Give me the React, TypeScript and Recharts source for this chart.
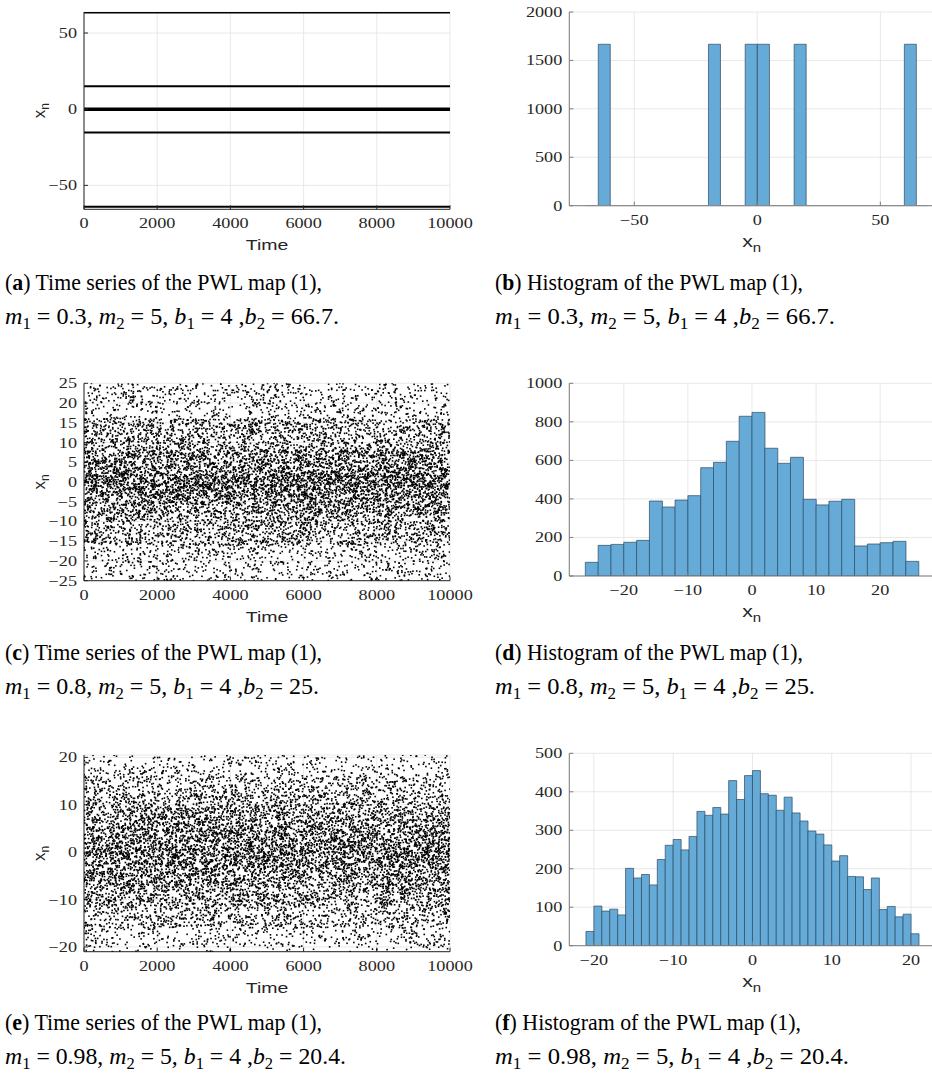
import React from 'react';
import { ComposedChart, XAxis, YAxis, CartesianGrid, Line, Scatter, Bar, ReferenceLine } from 'recharts';

// ---------------- data ----------------
const timeTicks = [0, 2000, 4000, 6000, 8000, 10000];
const timeDomain = [0, 10000];

// (a) period-6 orbit: the six levels visited by x_n
const levelsA = [63.4, 15, 0.5, -0.6, -15.3, -64];
const yTicksA = [-50, 0, 50];
const yDomainA = [-65.7, 63.8];

// (b) histogram of (a)
const binStartB = -69.6;
const binWidthB = 4.975;
const countsB = [0, 1667, 0, 0, 0, 0, 0, 0, 0, 0, 1667, 0, 0, 1667, 1667, 0, 0, 1667, 0, 0, 0, 0, 0, 0, 0, 0, 1667, 0];
const xTicksB = [-50, 0, 50];
const xDomainB = [-76.4, 71.8];
const yTicksB = [0, 500, 1000, 1500, 2000];
const yDomainB = [0, 2000];

// (c) time series, m1 = 0.8
const yTicksC = [-25, -20, -15, -10, -5, 0, 5, 10, 15, 20, 25];
const yDomainC = [-25, 25];

// (d) histogram of (c)
const binStartD = -26;
const binWidthD = 2;
const countsD = [71, 159, 164, 175, 185, 389, 358, 394, 417, 562, 590, 699, 829, 849, 663, 585, 616, 398, 369, 388, 398, 156, 166, 173, 180, 76];
const xTicksD = [-20, -10, 0, 10, 20];
const xDomainD = [-28.5, 28.4];
const yTicksD = [0, 200, 400, 600, 800, 1000];
const yDomainD = [0, 1000];

// (e) time series, m1 = 0.98
const yTicksE = [-20, -10, 0, 10, 20];
const yDomainE = [-21, 20.5];

// (f) histogram of (e)
const binStartF = -21;
const binWidthF = 1;
const countsF = [37, 103, 90, 95, 80, 201, 176, 185, 158, 224, 261, 276, 249, 284, 349, 339, 359, 342, 429, 380, 442, 455, 395, 391, 352, 386, 345, 324, 298, 290, 262, 220, 234, 180, 179, 146, 176, 94, 102, 75, 82, 31];
const xTicksF = [-20, -10, 0, 10, 20];
const xDomainF = [-23.1, 22.9];
const yTicksF = [0, 100, 200, 300, 400, 500];
const yDomainF = [0, 500];

// captions
const captionLetters = ['a', 'b', 'c', 'd', 'e', 'f'];
const captionTitles = [
  'Time series of the PWL map (1),',
  'Histogram of the PWL map (1),',
  'Time series of the PWL map (1),',
  'Histogram of the PWL map (1),',
  'Time series of the PWL map (1),',
  'Histogram of the PWL map (1),',
];
const captionParams = [
  ['0.3', '5', '4', '66.7'],
  ['0.3', '5', '4', '66.7'],
  ['0.8', '5', '4', '25'],
  ['0.8', '5', '4', '25'],
  ['0.98', '5', '4', '20.4'],
  ['0.98', '5', '4', '20.4'],
];

// ---------------- derived tables ----------------
const histTable = (start: number, w: number, counts: number[]) =>
  counts.map((c, i) => ({ x: start + (i + 0.5) * w, c }));

// deterministic integer hash -> [0,1)
const hash01 = (n: number) => {
  let h = Math.imul(n ^ 0x9e3779b9, 0x85ebca6b);
  h ^= h >>> 13;
  h = Math.imul(h, 0xc2b2ae35);
  h ^= h >>> 16;
  h = Math.imul(h ^ (h >>> 15), 0x2c1b3c6d);
  h ^= h >>> 12;
  return (h >>> 0) / 4294967296;
};

// The 10000-sample chaotic series cannot be read point by point; each sample is
// put in the x_n bin that the neighbouring histogram
// reports, so the dot density of the time series matches its histogram.
const samplesFromHistogram = (start: number, w: number, counts: number[], yMin: number, yMax: number, seed: number) => {
  const pts: { t: number; y: number }[] = [];
  let g = seed;
  counts.forEach((c, i) => {
    const lo = Math.max(start + i * w, yMin);
    const hi = Math.min(start + (i + 1) * w, yMax);
    for (let j = 0; j < c; j++) {
      g++;
      pts.push({ t: 1 + hash01(2 * g) * 9999, y: lo + hash01(2 * g + 1) * (hi - lo) });
    }
  });
  return pts;
};

const histB = histTable(binStartB, binWidthB, countsB);
const histD = histTable(binStartD, binWidthD, countsD);
const histF = histTable(binStartF, binWidthF, countsF);
const seriesC = samplesFromHistogram(binStartD, binWidthD, countsD, yDomainC[0], yDomainC[1], 1000);
const seriesE = samplesFromHistogram(binStartF, binWidthF, countsF, yDomainE[0], yDomainE[1], 50000);

// ---------------- styling ----------------
const SERIF = '"Liberation Serif", "DejaVu Serif", serif';
const SANS = '"Liberation Sans", Arial, sans-serif';
const SX = 1.3;
const TICK_FS = 14;
const TEXT = '#262626';
const BAR_FILL = '#66aad7';
const BAR_EDGE = '#2c4a62';

const fmt = (v: number) => (v < 0 ? '\u2212' + Math.abs(v) : String(v));

const XTick = (props: any) => {
  const { x, y, payload } = props;
  return (
    <text transform={`translate(${x},${y}) scale(${SX},1)`} textAnchor="middle" fontFamily={SERIF} fontSize={TICK_FS} fill={TEXT}>
      {fmt(payload.value)}
    </text>
  );
};

const YTick = (props: any) => {
  const { x, y, payload } = props;
  return (
    <text transform={`translate(${x},${y + 5}) scale(${SX},1)`} textAnchor="end" fontFamily={SERIF} fontSize={TICK_FS} fill={TEXT}>
      {fmt(payload.value)}
    </text>
  );
};

const dot = (p: any) => <rect x={p.cx - 0.8} y={p.cy - 0.8} width={1.6} height={1.6} fill="#000" />;

type PanelProps = {
  left: number; top: number; width: number; height: number;
  plotLeft: number; plotTop: number; plotRight: number; plotBottom: number;
  xDomain: number[]; xTicks: number[]; xKey: string;
  yDomain: number[]; yTicks: number[]; yKey?: string;
  axisColor: string; kind: 'time' | 'hist';
  data?: any[];
  children: React.ReactNode;
};

function Panel(p: PanelProps) {
  const YW = 60;
  const XH = 40;
  const margin = {
    left: p.plotLeft - p.left - YW,
    right: p.left + p.width - p.plotRight,
    top: p.plotTop - p.top,
    bottom: p.top + p.height - p.plotBottom - XH,
  };
  const pl = p.plotLeft - p.left;
  const pr = p.plotRight - p.left;
  const pt = p.plotTop - p.top;
  const pb = p.plotBottom - p.top;
  return (
    <div style={{ position: 'absolute', left: p.left, top: p.top, width: p.width, height: p.height }}>
      <ComposedChart width={p.width} height={p.height} margin={margin} data={p.data} barCategoryGap={0} barGap={0}>
        <CartesianGrid stroke="#e2e2e2" strokeWidth={0.8} />
        <XAxis xAxisId={0} type="number" dataKey={p.xKey} domain={p.xDomain} ticks={p.xTicks} allowDataOverflow interval={0}
          height={XH} tickSize={-4} tickMargin={23} stroke={p.axisColor} tick={(tp: any) => <XTick {...tp} />} />
        <XAxis xAxisId="top" orientation="top" type="number" domain={p.xDomain} ticks={p.xTicks} allowDataOverflow interval={0}
          height={0} tickSize={-4} tick={false} stroke={p.axisColor} />
        <YAxis yAxisId={0} type="number" dataKey={p.yKey} domain={p.yDomain} ticks={p.yTicks} allowDataOverflow interval={0}
          width={YW} tickSize={-4} tickMargin={11} stroke={p.axisColor} tick={(tp: any) => <YTick {...tp} />} />
        <YAxis yAxisId="right" orientation="right" type="number" domain={p.yDomain} ticks={p.yTicks} allowDataOverflow interval={0}
          width={0} tickSize={-4} tick={false} stroke={p.axisColor} />
        {p.children}
      </ComposedChart>
      <svg width={p.width} height={p.height} style={{ position: 'absolute', left: 0, top: 0, overflow: 'visible', pointerEvents: 'none' }}>
        {p.kind === 'time' ? (
          <>
            <text transform={`translate(${(pl + pr) / 2},${pb + 41}) scale(${SX},1)`} textAnchor="middle" fontFamily={SANS} fontSize={15} fill={TEXT}>
              Time
            </text>
            <text transform={`translate(${pl - 39},${(pt + pb) / 2}) rotate(-90)`} textAnchor="middle" fontFamily={SANS} fontSize={17} fill={TEXT}>
              x<tspan dy={4} fontSize={12}>n</tspan>
            </text>
          </>
        ) : (
          <text transform={`translate(${(pl + pr) / 2},${pb + 41}) scale(1.25,1)`} textAnchor="middle" fontFamily={SANS} fontSize={17} fill={TEXT}>
            x<tspan dy={5} fontSize={12}>n</tspan>
          </text>
        )}
      </svg>
    </div>
  );
}

function Caption({ i, x, y, w1, w2 }: { i: number; x: number; y: number; w1: number; w2: number }) {
  const [m1, m2, b1, b2] = captionParams[i];
  const SUB = 16;
  return (
    <g fontFamily={SERIF} fontSize={23} fill="#000">
      <text x={x} y={y} textLength={w1} lengthAdjust="spacingAndGlyphs">
        (<tspan fontWeight="bold">{captionLetters[i]}</tspan>) {captionTitles[i]}
      </text>
      <text x={x} y={y + 34} style={{ whiteSpace: 'pre' }} textLength={w2} lengthAdjust="spacingAndGlyphs">
        <tspan fontStyle="italic">m</tspan>
        <tspan dy={5} fontSize={SUB}>1</tspan>
        <tspan dy={-5}>{` = ${m1}, `}</tspan>
        <tspan fontStyle="italic">m</tspan>
        <tspan dy={5} fontSize={SUB}>2</tspan>
        <tspan dy={-5}>{` = ${m2}, `}</tspan>
        <tspan fontStyle="italic">b</tspan>
        <tspan dy={5} fontSize={SUB}>1</tspan>
        <tspan dy={-5}>{` = ${b1} ,`}</tspan>
        <tspan fontStyle="italic">b</tspan>
        <tspan dy={5} fontSize={SUB}>2</tspan>
        <tspan dy={-5}>{` = ${b2}.`}</tspan>
      </text>
    </g>
  );
}

export default function App() {
  const L = { left: 0, width: 484, plotLeft: 84, plotRight: 450, height: 260 };
  const R = { left: 470, width: 464, plotLeft: 569.3, plotRight: 934, height: 260 };
  const TS_AXIS = '#262626';
  const H_AXIS = '#7d7d7d';
  return (
    <div style={{ position: 'absolute', left: 0, top: 0, width: 932, height: 1079, overflow: 'hidden', background: '#fff' }}>
      {/* (a) */}
      <Panel {...L} top={0} plotTop={12} plotBottom={209.3} xDomain={timeDomain} xTicks={timeTicks} xKey="t"
        yDomain={yDomainA} yTicks={yTicksA} yKey="y" axisColor={TS_AXIS} kind="time">
        {levelsA.map((v, k) => (
          <Line key={k} data={[{ t: timeDomain[0], y: v }, { t: timeDomain[1], y: v }]} dataKey="y" stroke="#000"
            strokeWidth={2} dot={false} activeDot={false} isAnimationActive={false} />
        ))}
      </Panel>
      {/* (b) */}
      <Panel {...R} top={0} plotTop={12} plotBottom={205.7} xDomain={xDomainB} xTicks={xTicksB} xKey="x"
        yDomain={yDomainB} yTicks={yTicksB} axisColor={H_AXIS} kind="hist" data={histB}>
        <ReferenceLine segment={[{ x: binStartB, y: 0 }, { x: binStartB + countsB.length * binWidthB, y: 0 }]} stroke="#c4c4c4" strokeWidth={1} />
        <Bar dataKey="c" fill={BAR_FILL} stroke={BAR_EDGE} strokeWidth={0.7} isAnimationActive={false} />
      </Panel>
      {/* (c) */}
      <Panel {...L} top={370} plotTop={383.3} plotBottom={580.7} xDomain={timeDomain} xTicks={timeTicks} xKey="t"
        yDomain={yDomainC} yTicks={yTicksC} yKey="y" axisColor={TS_AXIS} kind="time">
        <Scatter data={seriesC} dataKey="y" shape={dot} isAnimationActive={false} />
      </Panel>
      {/* (d) */}
      <Panel {...R} top={370} plotTop={383.3} plotBottom={576} xDomain={xDomainD} xTicks={xTicksD} xKey="x"
        yDomain={yDomainD} yTicks={yTicksD} axisColor={H_AXIS} kind="hist" data={histD}>
        <Bar dataKey="c" fill={BAR_FILL} stroke={BAR_EDGE} strokeWidth={0.7} isAnimationActive={false} />
      </Panel>
      {/* (e) */}
      <Panel {...L} top={740} plotTop={755} plotBottom={951.7} xDomain={timeDomain} xTicks={timeTicks} xKey="t"
        yDomain={yDomainE} yTicks={yTicksE} yKey="y" axisColor={TS_AXIS} kind="time">
        <Scatter data={seriesE} dataKey="y" shape={dot} isAnimationActive={false} />
      </Panel>
      {/* (f) */}
      <Panel {...R} top={740} plotTop={753.3} plotBottom={945.7} xDomain={xDomainF} xTicks={xTicksF} xKey="x"
        yDomain={yDomainF} yTicks={yTicksF} axisColor={H_AXIS} kind="hist" data={histF}>
        <Bar dataKey="c" fill={BAR_FILL} stroke={BAR_EDGE} strokeWidth={0.7} isAnimationActive={false} />
      </Panel>
      {/* captions */}
      <svg width={932} height={1079} style={{ position: 'absolute', left: 0, top: 0, pointerEvents: 'none' }}>
        <Caption i={0} x={5} y={290} w1={317} w2={334} />
        <Caption i={1} x={495} y={290} w1={308} w2={340} />
        <Caption i={2} x={5} y={660} w1={317} w2={314} />
        <Caption i={3} x={495} y={660} w1={308} w2={320} />
        <Caption i={4} x={5} y={1030} w1={317} w2={341} />
        <Caption i={5} x={495} y={1030} w1={306} w2={354} />
      </svg>
    </div>
  );
}
